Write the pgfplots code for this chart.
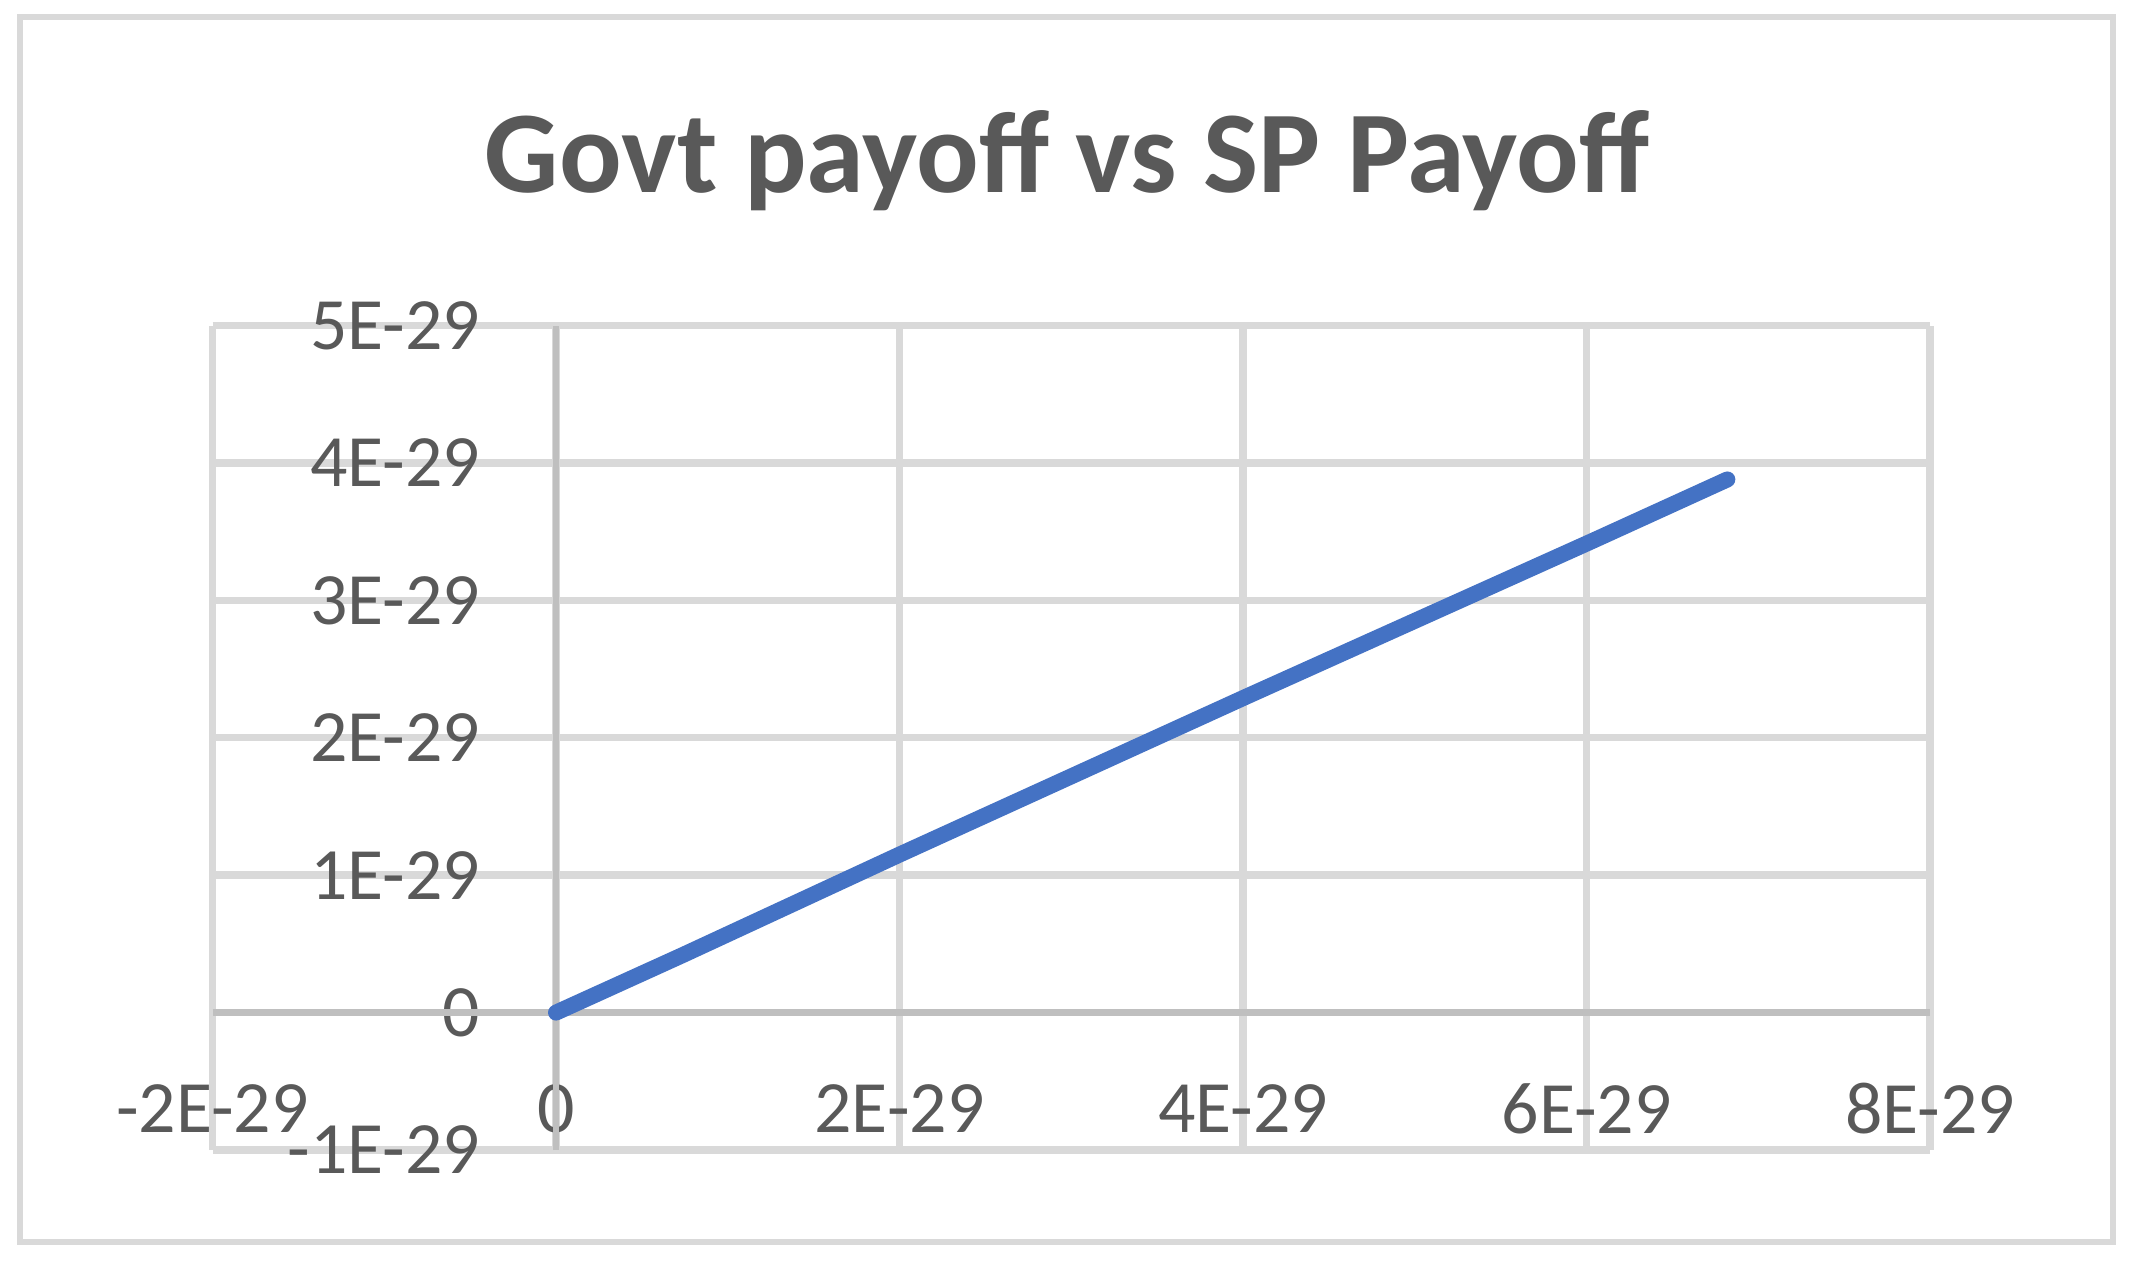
\documentclass[border=0pt]{standalone}
\usepackage{fontspec}
\setmainfont{Carlito}
\usepackage{pgfplots}
\pgfplotsset{compat=1.18}
\definecolor{gridclr}{HTML}{D9D9D9}
\definecolor{axisclr}{HTML}{BFBFBF}
\definecolor{txtclr}{HTML}{595959}
\definecolor{seriesclr}{HTML}{4472C4}
\begin{document}
\begin{tikzpicture}
% page = 2132 x 1264 px at 0.05 mm per px
\path[use as bounding box] (0,0) rectangle (106.6mm,63.2mm);
\draw[gridclr, line width=0.33mm] (1.0mm,1.1mm) rectangle (105.65mm,62.35mm);
\node[anchor=base, font=\fontsize{16.6}{19}\selectfont\bfseries, text=txtclr]
  at (53.35mm,53.55mm) {Govt payoff vs SP Payoff};
\begin{axis}[
  at={(10.625mm,5.7mm)}, anchor=south west,
  scale only axis, width=85.875mm, height=41.225mm,
  xmin=-2, xmax=8, ymin=-1, ymax=5,
  xtick={-2,0,2,4,6,8}, ytick={-1,0,1,2,3,4,5},
  xticklabels={-2E-29,0,2E-29,4E-29,6E-29,8E-29},
  yticklabels={-1E-29,0,1E-29,2E-29,3E-29,4E-29,5E-29},
  grid=major,
  major grid style={color=gridclr, line width=0.37mm},
  axis line style={draw=none},
  major tick length=0pt, tick style={draw=none},
  ticklabel style={font=\fontsize{10.5}{12}\selectfont, text=txtclr, inner sep=0pt},
  xticklabel style={anchor=center, yshift=2.05mm},
  yticklabel style={anchor=east, xshift=13.46mm},
  clip=false,
]
% axes cross at zero, values in units of 1E-29
\draw[axisclr, line width=0.33mm] (axis cs:-2,0) -- (axis cs:8,0);
\draw[axisclr, line width=0.33mm] (axis cs:0,-1) -- (axis cs:0,5);
\addplot[seriesclr, line width=0.8mm, line cap=round, line join=round, no markers]
  coordinates {(0,0) (0.74,0.42) (2.00,1.15) (4.02,2.30) (6.03,3.43) (6.82,3.88)};
\end{axis}
\end{tikzpicture}
\end{document}
